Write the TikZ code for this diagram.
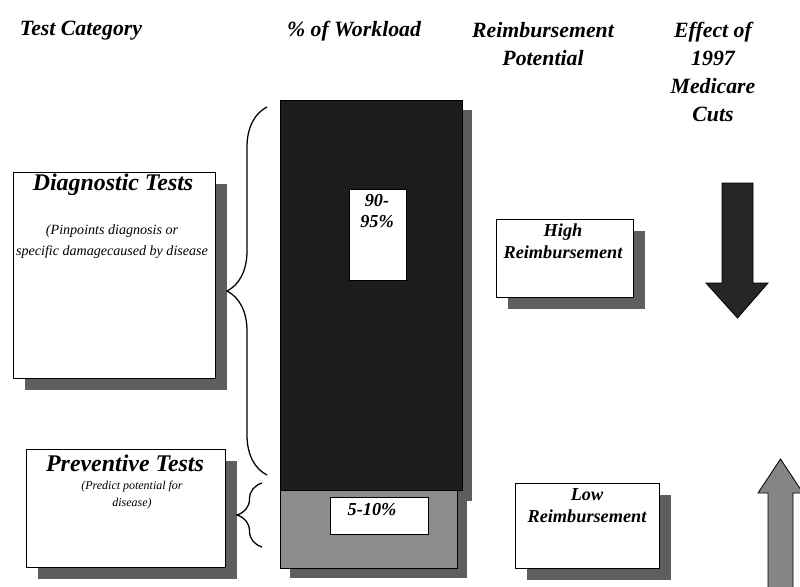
\documentclass[tikz,border=0pt]{standalone}
\usepackage{fontspec}
\setmainfont{Liberation Serif}
\usetikzlibrary{shadows,decorations.pathreplacing}
\definecolor{barDark}{HTML}{1C1C1C}
\definecolor{barLight}{HTML}{8C8C8C}
\definecolor{shadowGray}{HTML}{5E5E5E}
\definecolor{cutDown}{HTML}{262626}
\definecolor{cutUp}{HTML}{858585}
\tikzset{
    panel/.style={draw, line width=0.6pt, fill=white, anchor=north west,
                  inner sep=0pt},
    shaded/.style={panel, drop shadow={shadow xshift=0.3cm,
                   shadow yshift=-0.3cm, fill=shadowGray, opacity=1}},
    bar/.style={panel, drop shadow={shadow xshift=0.25cm,
                shadow yshift=-0.25cm, fill=shadowGray, opacity=1}},
    heading/.style={font=\fontsize{15.5}{20}\selectfont\bfseries\itshape,
                    align=center, inner sep=0pt},
    title/.style={font=\fontsize{17}{20}\selectfont\bfseries\itshape,
                  align=center, inner sep=0pt},
    remark/.style={font=\fontsize{10}{15}\selectfont\itshape,
                   align=center, inner sep=0pt},
    value/.style={font=\fontsize{13}{15.5}\selectfont\bfseries\itshape,
                  align=center, inner sep=0pt},
    curly/.style={decorate, decoration={brace, amplitude=#1},
                  line width=0.9pt},
    blockarrow/.style={draw, line width=0.6pt},
}

\begin{document}
\begin{tikzpicture}[x=0.025cm, y=-0.025cm]

    \clip (0,0) rectangle (800,586);

    \node[heading] (hcat) at (81,31) {Test Category};
    \node[heading] (hload) at (354,31) {\% of Workload};
    \node[heading] (hreimb) at (543,44) {Reimbursement\\Potential};
    \node[heading] (heffect) at (713,72) {Effect of\\1997\\Medicare\\Cuts};

    \node[bar, fill=barDark, minimum width=4.55cm, minimum height=9.75cm] (high bar) at (280,100) {};
    \node[bar, fill=barLight, minimum width=4.425cm, minimum height=1.95cm] (low bar) at (280,490) {};
    \node[panel, minimum width=1.425cm, minimum height=2.275cm] (high share) at (349,189) {};
    \node[value] at (377,211) {90-\\95\%};
    \node[panel, minimum width=2.45cm, minimum height=0.925cm] (low share) at (330,497) {};
    \node[value] at (372,510) {5-10\%};

    \node[shaded, minimum width=5.05cm, minimum height=5.15cm] (diag) at (13,172) {};
    \node[title] (diag title) at (113,185) {Diagnostic Tests};
    \node[remark] (diag note) at (112,242) {(Pinpoints diagnosis or\\specific damagecaused by disease};
    \node[shaded, minimum width=4.975cm, minimum height=2.95cm] (prev) at (26,449) {};
    \node[title] (prev title) at (125,463) {Preventive Tests};
    \node[remark, font=\fontsize{8.5}{12}\selectfont\itshape] (prev note) at (132,495) {(Predict potential for\\disease)};

    \node[shaded, minimum width=3.425cm, minimum height=1.95cm] (high) at (496,219) {};
    \node[value] (high text) at (563,241) {High\\Reimbursement};
    \node[shaded, minimum width=3.6cm, minimum height=2.125cm] (low) at (515,483) {};
    \node[value] (low text) at (587,506) {Low\\Reimbursement};

    \coordinate (diag top) at (267,107);
    \coordinate (diag end) at (267,475);
    \coordinate (prev top) at (262,483);
    \coordinate (prev end) at (262,547);
    \draw[curly=1cm] (diag end) -- (diag top);
    \draw[curly=0.625cm] (prev end) -- (prev top);

    \draw[blockarrow, fill=cutDown] (722,183) -- (753,183) -- (753,283) -- (768,283)
        -- (737.5,318) -- (706,283) -- (722,283) -- cycle;
    \draw[blockarrow, fill=cutUp] (768,600) -- (768,493) -- (758,493) -- (780.5,459)
        -- (803,493) -- (793,493) -- (793,600) -- cycle;

\end{tikzpicture}
\end{document}
